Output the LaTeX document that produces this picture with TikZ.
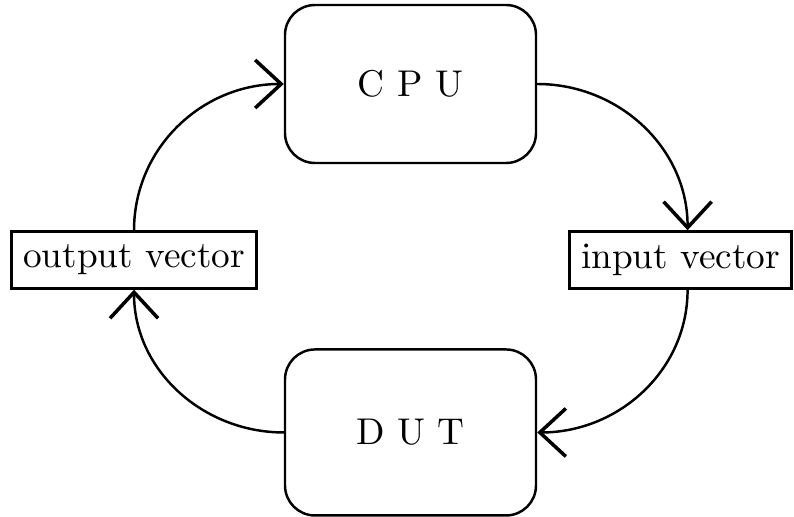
\documentclass[tikz,border=0pt]{standalone}
\usepackage{tikz}
\usetikzlibrary{positioning,arrows.meta}

\begin{document}
\begin{tikzpicture}[
  unit/.style={draw, rounded corners=3mm, minimum width=2.51cm,
               minimum height=1.58cm, align=center},
  vecbox/.style={draw, minimum height=0.57cm},
  line width=0.7pt,
  >={Straight Barb[length=2.6mm, width=4.8mm, line width=1pt]},
  font=\fontsize{10.6}{12.7}\selectfont
]
\useasboundingbox (0,0) rectangle (7.94,5.16);

% Processor and device under test
\node[unit] (cpu) at (4.105,4.32) {C P U};
\node[unit, minimum height=1.66cm, below=1.84cm of cpu] (dut) {D U T};

% Data passed between them
\node[vecbox, below left=0.66cm and 0.26cm of cpu] (outvec) {output vector};
\node[vecbox, below right=0.66cm and 0.31cm of cpu] (invec) {input vector};

% Loop
\draw[->] (cpu.east) to[out=0, in=90] ([xshift=0.7mm]invec.north);
\draw[->] ([xshift=0.7mm]invec.south) to[out=-90, in=0] (dut.east);
\draw[->] (dut.west) to[out=180, in=-90] (outvec.south);
\draw[->] (outvec.north) to[out=90, in=180] (cpu.west);

\end{tikzpicture}
\end{document}
